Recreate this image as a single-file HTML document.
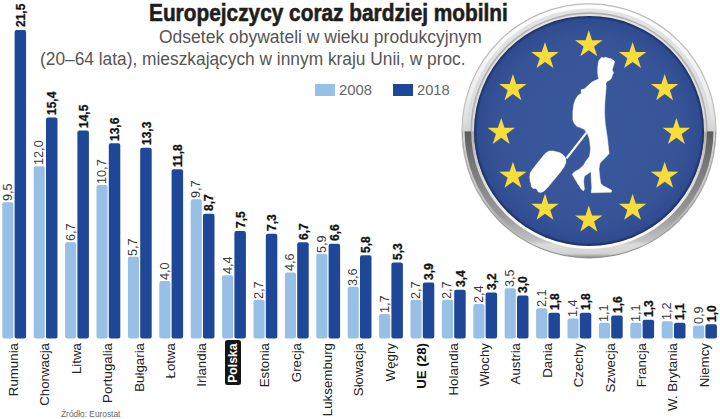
<!DOCTYPE html>
<html><head><meta charset="utf-8"><style>
html,body{margin:0;padding:0;background:#fff}
body{width:720px;height:419px;position:relative;overflow:hidden;font-family:"Liberation Sans",sans-serif}
.bar{position:absolute;border-radius:2px}
.vl,.vb{position:absolute;transform-origin:0 0;transform:rotate(-90deg);white-space:nowrap;font-size:12px;line-height:12px;height:12px}
.vl{color:#383838;font-size:12.7px}
.vb{color:#111;font-weight:bold;-webkit-text-stroke:0.3px #111}
.cn{position:absolute;transform-origin:0 0;transform:rotate(-90deg);width:80px;text-align:right;white-space:nowrap;font-size:13.3px;line-height:14px;height:14px;color:#222}
.cn.ue{font-weight:bold;color:#111}
.cn.pl{color:#fff;font-weight:bold}
.plbox{position:absolute;background:#151515;border-radius:2.5px}
.t{position:absolute;white-space:nowrap;transform-origin:0 0}
#title{left:149px;top:-1px;font-size:24px;font-weight:bold;color:#1e1e1e;transform:scaleX(0.868);-webkit-text-stroke:0.6px #1e1e1e}
#s1{left:159.2px;top:26.9px;font-size:17.5px;color:#555;transform:scaleX(0.9995)}
#s2{left:39.8px;top:48.6px;font-size:17.5px;color:#555;transform:scaleX(0.99)}
.lg{position:absolute}
#src{left:60.6px;top:408.1px;font-size:9.5px;color:#666;transform:scaleX(0.879)}
svg{position:absolute;left:0;top:0}
</style></head><body>
<div class="t" id="title">Europejczycy coraz bardziej mobilni</div>
<div class="t" id="s1">Odsetek obywateli w wieku produkcyjnym</div>
<div class="t" id="s2">(20–64 lata), mieszkających w innym kraju Unii, w proc.</div>
<div class="lg" style="left:315px;top:84.3px;width:19.6px;height:11.4px;background:#98bfe5"></div>
<div class="t" style="left:338.6px;top:82px;font-size:14px;color:#666;transform:scaleX(1.06)">2008</div>
<div class="lg" style="left:393.4px;top:84.3px;width:19.8px;height:11.4px;background:#1e4797"></div>
<div class="t" style="left:416.8px;top:82px;font-size:14px;color:#666;transform:scaleX(1.05)">2018</div>
<svg width="720" height="419" viewBox="0 0 720 419"><rect x="2.30" y="202.18" width="11.1" height="136.32" rx="2" fill="#98bfe5"/><rect x="14.60" y="29.98" width="11.5" height="308.52" rx="2" fill="#1e4797"/><rect x="33.70" y="166.30" width="11.1" height="172.20" rx="2" fill="#98bfe5"/><rect x="46.00" y="117.51" width="11.5" height="220.99" rx="2" fill="#1e4797"/><rect x="65.10" y="242.36" width="11.1" height="96.14" rx="2" fill="#98bfe5"/><rect x="77.40" y="130.43" width="11.5" height="208.07" rx="2" fill="#1e4797"/><rect x="96.50" y="184.96" width="11.1" height="153.54" rx="2" fill="#98bfe5"/><rect x="108.80" y="143.34" width="11.5" height="195.16" rx="2" fill="#1e4797"/><rect x="127.90" y="256.70" width="11.1" height="81.80" rx="2" fill="#98bfe5"/><rect x="140.20" y="147.64" width="11.5" height="190.86" rx="2" fill="#1e4797"/><rect x="159.30" y="281.10" width="11.1" height="57.40" rx="2" fill="#98bfe5"/><rect x="171.60" y="169.17" width="11.5" height="169.33" rx="2" fill="#1e4797"/><rect x="190.70" y="199.31" width="11.1" height="139.19" rx="2" fill="#98bfe5"/><rect x="203.00" y="213.66" width="11.5" height="124.84" rx="2" fill="#1e4797"/><rect x="222.10" y="275.36" width="11.1" height="63.14" rx="2" fill="#98bfe5"/><rect x="234.40" y="230.88" width="11.5" height="107.62" rx="2" fill="#1e4797"/><rect x="253.50" y="299.75" width="11.1" height="38.75" rx="2" fill="#98bfe5"/><rect x="265.80" y="233.75" width="11.5" height="104.75" rx="2" fill="#1e4797"/><rect x="284.90" y="272.49" width="11.1" height="66.01" rx="2" fill="#98bfe5"/><rect x="297.20" y="242.36" width="11.5" height="96.14" rx="2" fill="#1e4797"/><rect x="316.30" y="253.83" width="11.1" height="84.67" rx="2" fill="#98bfe5"/><rect x="328.60" y="243.79" width="11.5" height="94.71" rx="2" fill="#1e4797"/><rect x="347.70" y="286.84" width="11.1" height="51.66" rx="2" fill="#98bfe5"/><rect x="360.00" y="255.27" width="11.5" height="83.23" rx="2" fill="#1e4797"/><rect x="379.10" y="314.11" width="11.1" height="24.39" rx="2" fill="#98bfe5"/><rect x="391.40" y="262.44" width="11.5" height="76.05" rx="2" fill="#1e4797"/><rect x="410.50" y="299.75" width="11.1" height="38.75" rx="2" fill="#98bfe5"/><rect x="422.80" y="282.54" width="11.5" height="55.96" rx="2" fill="#1e4797"/><rect x="441.90" y="299.75" width="11.1" height="38.75" rx="2" fill="#98bfe5"/><rect x="454.20" y="289.71" width="11.5" height="48.79" rx="2" fill="#1e4797"/><rect x="473.30" y="304.06" width="11.1" height="34.44" rx="2" fill="#98bfe5"/><rect x="485.60" y="292.58" width="11.5" height="45.92" rx="2" fill="#1e4797"/><rect x="504.70" y="288.27" width="11.1" height="50.23" rx="2" fill="#98bfe5"/><rect x="517.00" y="295.45" width="11.5" height="43.05" rx="2" fill="#1e4797"/><rect x="536.10" y="308.37" width="11.1" height="30.14" rx="2" fill="#98bfe5"/><rect x="548.40" y="312.67" width="11.5" height="25.83" rx="2" fill="#1e4797"/><rect x="567.50" y="318.41" width="11.1" height="20.09" rx="2" fill="#98bfe5"/><rect x="579.80" y="312.67" width="11.5" height="25.83" rx="2" fill="#1e4797"/><rect x="598.90" y="322.71" width="11.1" height="15.79" rx="2" fill="#98bfe5"/><rect x="611.20" y="315.54" width="11.5" height="22.96" rx="2" fill="#1e4797"/><rect x="630.30" y="322.71" width="11.1" height="15.79" rx="2" fill="#98bfe5"/><rect x="642.60" y="319.85" width="11.5" height="18.66" rx="2" fill="#1e4797"/><rect x="661.70" y="321.28" width="11.1" height="17.22" rx="2" fill="#98bfe5"/><rect x="674.00" y="322.71" width="11.5" height="15.79" rx="2" fill="#1e4797"/><rect x="693.10" y="325.58" width="11.1" height="12.91" rx="2" fill="#98bfe5"/><rect x="705.40" y="324.15" width="11.5" height="14.35" rx="2" fill="#1e4797"/></svg>
<div class="vl" style="left:1.80px;top:200.98px">9,5</div>
<div class="vb" style="left:15.00px;top:27.48px">21,5</div>
<div class="cn" style="left:6.90px;top:423px"><span>Rumunia</span></div>
<div class="vl" style="left:33.20px;top:165.10px">12,0</div>
<div class="vb" style="left:46.40px;top:115.01px">15,4</div>
<div class="cn" style="left:38.30px;top:423px"><span>Chorwacja</span></div>
<div class="vl" style="left:64.60px;top:241.16px">6,7</div>
<div class="vb" style="left:77.80px;top:127.93px">14,5</div>
<div class="cn" style="left:69.70px;top:423px"><span>Litwa</span></div>
<div class="vl" style="left:96.00px;top:183.76px">10,7</div>
<div class="vb" style="left:109.20px;top:140.84px">13,6</div>
<div class="cn" style="left:101.10px;top:423px"><span>Portugalia</span></div>
<div class="vl" style="left:127.40px;top:255.50px">5,7</div>
<div class="vb" style="left:140.60px;top:145.14px">13,3</div>
<div class="cn" style="left:132.50px;top:423px"><span>Bułgaria</span></div>
<div class="vl" style="left:158.80px;top:279.90px">4,0</div>
<div class="vb" style="left:172.00px;top:166.67px">11,8</div>
<div class="cn" style="left:163.90px;top:423px"><span>Łotwa</span></div>
<div class="vl" style="left:190.20px;top:198.11px">9,7</div>
<div class="vb" style="left:203.40px;top:211.16px">8,7</div>
<div class="cn" style="left:195.30px;top:423px"><span>Irlandia</span></div>
<div class="vl" style="left:221.60px;top:274.16px">4,4</div>
<div class="vb" style="left:234.80px;top:228.38px">7,5</div>
<div class="plbox" style="left:225.4px;top:340.4px;width:16px;height:45.1px"></div>
<div class="cn pl" style="left:225.90px;top:417.00px;transform:rotate(-90deg) scaleX(0.92)"><span>Polska</span></div>
<div class="vl" style="left:253.00px;top:298.56px">2,7</div>
<div class="vb" style="left:266.20px;top:231.25px">7,3</div>
<div class="cn" style="left:258.10px;top:423px"><span>Estonia</span></div>
<div class="vl" style="left:284.40px;top:271.29px">4,6</div>
<div class="vb" style="left:297.60px;top:239.86px">6,7</div>
<div class="cn" style="left:289.50px;top:423px"><span>Grecja</span></div>
<div class="vl" style="left:315.80px;top:252.63px">5,9</div>
<div class="vb" style="left:329.00px;top:241.29px">6,6</div>
<div class="cn" style="left:320.90px;top:423px"><span>Luksemburg</span></div>
<div class="vl" style="left:347.20px;top:285.64px">3,6</div>
<div class="vb" style="left:360.40px;top:252.77px">5,8</div>
<div class="cn" style="left:352.30px;top:423px"><span>Słowacja</span></div>
<div class="vl" style="left:378.60px;top:312.91px">1,7</div>
<div class="vb" style="left:391.80px;top:259.94px">5,3</div>
<div class="cn" style="left:383.70px;top:423px"><span>Węgry</span></div>
<div class="vl" style="left:410.00px;top:298.56px">2,7</div>
<div class="vb" style="left:423.20px;top:280.04px">3,9</div>
<div class="cn ue" style="left:415.10px;top:423px"><span>UE (28)</span></div>
<div class="vl" style="left:441.40px;top:298.56px">2,7</div>
<div class="vb" style="left:454.60px;top:287.21px">3,4</div>
<div class="cn" style="left:446.50px;top:423px"><span>Holandia</span></div>
<div class="vl" style="left:472.80px;top:302.86px">2,4</div>
<div class="vb" style="left:486.00px;top:290.08px">3,2</div>
<div class="cn" style="left:477.90px;top:423px"><span>Włochy</span></div>
<div class="vl" style="left:504.20px;top:287.07px">3,5</div>
<div class="vb" style="left:517.40px;top:292.95px">3,0</div>
<div class="cn" style="left:509.30px;top:423px"><span>Austria</span></div>
<div class="vl" style="left:535.60px;top:307.17px">2,1</div>
<div class="vb" style="left:548.80px;top:310.17px">1,8</div>
<div class="cn" style="left:540.70px;top:423px"><span>Dania</span></div>
<div class="vl" style="left:567.00px;top:317.21px">1,4</div>
<div class="vb" style="left:580.20px;top:310.17px">1,8</div>
<div class="cn" style="left:572.10px;top:423px"><span>Czechy</span></div>
<div class="vl" style="left:598.40px;top:321.51px">1,1</div>
<div class="vb" style="left:611.60px;top:313.04px">1,6</div>
<div class="cn" style="left:603.50px;top:423px"><span>Szwecja</span></div>
<div class="vl" style="left:629.80px;top:321.51px">1,1</div>
<div class="vb" style="left:643.00px;top:317.35px">1,3</div>
<div class="cn" style="left:634.90px;top:423px"><span>Francja</span></div>
<div class="vl" style="left:661.20px;top:320.08px">1,2</div>
<div class="vb" style="left:674.40px;top:320.21px">1,1</div>
<div class="cn" style="left:666.30px;top:423px"><span>W. Brytania</span></div>
<div class="vl" style="left:692.60px;top:324.38px">0,9</div>
<div class="vb" style="left:705.80px;top:321.65px">1,0</div>
<div class="cn" style="left:697.70px;top:423px"><span>Niemcy</span></div>
<div class="t" id="src">Źródło: Eurostat</div>
<svg width="720" height="419" viewBox="0 0 720 419">
<defs>
<radialGradient id="bl" cx="0.5" cy="0.5" r="0.5">
<stop offset="0" stop-color="#3a589d"/><stop offset="0.8" stop-color="#375498"/><stop offset="0.97" stop-color="#304c90"/><stop offset="1" stop-color="#1a2c5e"/>
</radialGradient>
<linearGradient id="rv" gradientUnits="userSpaceOnUse" x1="0" y1="3" x2="0" y2="258">
<stop offset="0" stop-color="#e4e4e4"/><stop offset="0.45" stop-color="#dcdcdc"/><stop offset="0.5" stop-color="#d2d2d2"/><stop offset="0.506" stop-color="#5c5c5c"/><stop offset="0.66" stop-color="#7c7c7c"/><stop offset="0.83" stop-color="#989898"/><stop offset="0.93" stop-color="#c0c0c0"/><stop offset="0.949" stop-color="#dcdcdc"/><stop offset="0.982" stop-color="#d4d4d4"/><stop offset="0.992" stop-color="#a8a8a8"/><stop offset="1" stop-color="#8c8c8c"/>
</linearGradient>
<linearGradient id="hiT" gradientUnits="userSpaceOnUse" x1="0" y1="3" x2="0" y2="131">
<stop offset="0" stop-color="#fff" stop-opacity="1"/><stop offset="0.7" stop-color="#fff" stop-opacity="0.5"/><stop offset="1" stop-color="#fff" stop-opacity="0"/>
</linearGradient>
<linearGradient id="hiB" gradientUnits="userSpaceOnUse" x1="0" y1="131" x2="0" y2="246">
<stop offset="0" stop-color="#fff" stop-opacity="0.5"/><stop offset="1" stop-color="#fff" stop-opacity="1"/>
</linearGradient>
<linearGradient id="edgeG" gradientUnits="userSpaceOnUse" x1="0" y1="3" x2="0" y2="258">
<stop offset="0" stop-color="#b4b4b4"/><stop offset="0.6" stop-color="#bdbdbd"/><stop offset="1" stop-color="#8c8c8c"/>
</linearGradient>
<linearGradient id="olb" gradientUnits="userSpaceOnUse" x1="0" y1="131" x2="0" y2="240">
<stop offset="0" stop-color="#d4d4d4" stop-opacity="1"/><stop offset="0.6" stop-color="#d4d4d4" stop-opacity="0.8"/><stop offset="1" stop-color="#d4d4d4" stop-opacity="0"/>
</linearGradient>
</defs>
<circle cx="589" cy="130.9" r="127.6" fill="url(#edgeG)"/>
<circle cx="589" cy="130.9" r="126.6" fill="url(#rv)"/>
<circle cx="589" cy="130.9" r="124.3" fill="none" stroke="url(#hiT)" stroke-width="3.6"/>
<path d="M471.2,130.9 A117.8,117.8 0 0 1 706.8,130.9" fill="none" stroke="#b0b0b0" stroke-width="1.6"/>
<path d="M472.6,130.9 A116.4,116.4 0 0 0 705.4,130.9" fill="none" stroke="url(#hiB)" stroke-width="3"/>
<path d="M463.6,130.9 A125.4,125.4 0 0 0 714.4,130.9" fill="none" stroke="url(#olb)" stroke-width="2"/>
<circle cx="589" cy="130.9" r="115" fill="url(#bl)"/>
<g fill="#f8dc3a">
<polygon points="588.80,30.30 592.06,40.21 602.50,40.25 594.07,46.41 597.26,56.35 588.80,50.24 580.34,56.35 583.53,46.41 575.10,40.25 585.54,40.21"/>
<polygon points="632.60,42.04 635.86,51.95 646.30,51.99 637.87,58.15 641.06,68.09 632.60,61.98 624.14,68.09 627.33,58.15 618.90,51.99 629.34,51.95"/>
<polygon points="664.66,74.10 667.92,84.01 678.36,84.05 669.94,90.21 673.13,100.15 664.66,94.04 656.20,100.15 659.39,90.21 650.97,84.05 661.41,84.01"/>
<polygon points="676.40,117.90 679.66,127.81 690.10,127.85 681.67,134.01 684.86,143.95 676.40,137.84 667.94,143.95 671.13,134.01 662.70,127.85 673.14,127.81"/>
<polygon points="664.66,161.70 667.92,171.61 678.36,171.65 669.94,177.81 673.13,187.75 664.66,181.64 656.20,187.75 659.39,177.81 650.97,171.65 661.41,171.61"/>
<polygon points="632.60,193.76 635.86,203.68 646.30,203.71 637.87,209.88 641.06,219.81 632.60,213.71 624.14,219.81 627.33,209.88 618.90,203.71 629.34,203.68"/>
<polygon points="588.80,205.50 592.06,215.41 602.50,215.45 594.07,221.61 597.26,231.55 588.80,225.44 580.34,231.55 583.53,221.61 575.10,215.45 585.54,215.41"/>
<polygon points="545.00,193.76 548.26,203.68 558.70,203.71 550.27,209.88 553.46,219.81 545.00,213.71 536.54,219.81 539.73,209.88 531.30,203.71 541.74,203.68"/>
<polygon points="512.94,161.70 516.19,171.61 526.63,171.65 518.21,177.81 521.40,187.75 512.94,181.64 504.47,187.75 507.66,177.81 499.24,171.65 509.68,171.61"/>
<polygon points="501.20,117.90 504.46,127.81 514.90,127.85 506.47,134.01 509.66,143.95 501.20,137.84 492.74,143.95 495.93,134.01 487.50,127.85 497.94,127.81"/>
<polygon points="512.94,74.10 516.19,84.01 526.63,84.05 518.21,90.21 521.40,100.15 512.94,94.04 504.47,100.15 507.66,90.21 499.24,84.05 509.68,84.01"/>
<polygon points="545.00,42.04 548.26,51.95 558.70,51.99 550.27,58.15 553.46,68.09 545.00,61.98 536.54,68.09 539.73,58.15 531.30,51.99 541.74,51.95"/>
</g>
<g fill="#fff" stroke="#fff" stroke-width="0.4" stroke-linejoin="round">
<polygon points="598.6,61.0 599.8,59.2 601.7,57.2 603.3,58.0 604.8,57.2 606.7,57.6 608.5,58.3 610.5,58.6 612.3,59.6 613.9,60.6 614.8,62.0 614.1,63.6 613.5,66.0 612.6,68.5 612.3,70.4 613.3,72.0 613.6,73.2 612.5,74.5 612.2,76.0 611.3,78.5 609.5,80.2 607.2,81.3 605.9,83.2 606.2,86.0 606.0,89.0 605.4,96.0 604.8,104.0 604.6,112.0 604.8,118.0 605.4,125.0 606.2,129.8 607.6,139.3 608.6,148.8 609.1,153.6 605.7,157.4 603.1,159.8 599.9,163.4 599.0,168.9 599.9,178.0 600.8,183.4 603.1,185.7 607.6,188.0 611.7,190.2 611.3,192.3 591.3,192.8 591.3,191.0 591.8,188.0 591.3,180.7 590.9,171.6 587.7,173.9 584.5,176.1 583.6,181.6 584.5,188.9 583.6,190.8 581.8,189.8 578.6,185.2 573.2,176.1 572.3,174.8 572.7,173.4 575.0,171.6 579.5,168.9 583.8,165.0 585.7,161.2 589.5,156.5 590.5,148.8 589.5,139.3 587.6,134.0 585.6,131.5 584.6,129.5 581.8,128.3 576.7,126.3 574.0,123.0 572.8,119.5 572.8,111.6 573.8,104.0 575.6,99.0 578.0,95.5 581.5,93.0 580.8,91.2 581.5,89.6 584.0,89.0 586.0,87.5 589.0,84.5 592.0,82.0 595.5,80.3 598.6,79.0 598.0,76.0 597.6,72.0 597.7,68.0 598.1,64.0"/>
<polygon points="546.3,152.6 549.2,151.0 553.4,150.9 559.4,152.5 562.4,154.2 564.7,156.5 565.9,159.1 565.9,162.7 564.1,166.9 559.4,173.4 553.4,180.6 547.5,187.7 543.9,191.3 540.9,192.5 538.2,192.0 537.3,189.8 535.5,188.5 533.2,188.6 531.4,186.7 531.0,183.8 530.2,181.8 529.7,177.0 530.2,172.8 532.6,169.2 536.7,163.9 541.5,157.9 544.5,154.3"/>
<line x1="566.5" y1="158.4" x2="586.3" y2="132.8" stroke-width="2.2"/>
</g>
</svg>
</body></html>
